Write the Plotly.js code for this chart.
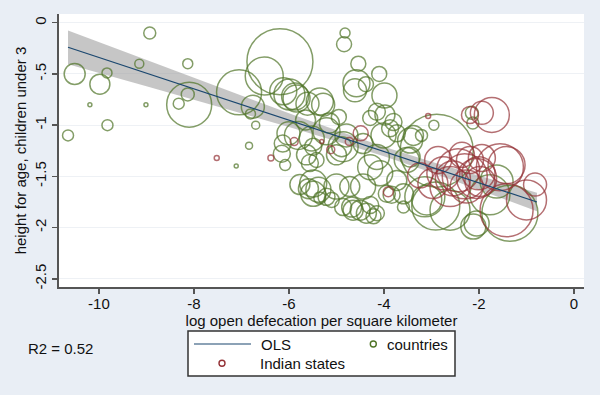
<!DOCTYPE html>
<html>
<head>
<meta charset="utf-8">
<script src="https://cdn.plot.ly/plotly-3.0.1.min.js"></script>
<style>html,body{margin:0;padding:0;background:#e9eef5;}#chart{width:600px;height:395px;}</style>
</head>
<body>
<div id="chart"></div>
<script>
// OLS fit and 95% CI band
var olsX = [-10.65, -0.78];
var olsY = [-0.240, -1.750];
var ciX = [-10.65, -9, -8, -7, -6, -5, -4, -3, -2, -0.78];
var ciUpper = [-0.075, -0.364, -0.539, -0.712, -0.884, -1.051, -1.210, -1.357, -1.496, -1.660];
var ciLower = [-0.405, -0.620, -0.751, -0.884, -1.018, -1.157, -1.304, -1.463, -1.630, -1.840];

// countries: log open defecation per km2, height-for-age, bubble size
var countriesX = [-10.65,-10.51,-10.19,-9.98,-9.83,-9.82,-9.15,-9.01,-8.93,-8.13,-8.10,-8.32,-8.13,-7.11,-6.84,-7.05,-6.19,-6.52,-5.99,-6.76,-6.70,-6.81,-6.13,-6.08,-6.15,-5.61,-5.28,-5.87,-4.82,-4.84,-4.54,-4.58,-4.38,-4.10,-3.99,-4.15,-3.98,-4.29,-3.80,-2.95,-2.89,-2.13,-2.15,-6.01,-5.80,-5.52,-5.21,-4.79,-4.89,-4.44,-4.01,-3.87,-3.38,-3.21,-3.45,-5.00,-5.63,-4.15,-3.45,-5.49,-5.56,-5.42,-5.49,-5.59,-5.38,-5.10,-5.35,-4.29,-4.08,-4.86,-5.00,-4.68,-4.29,-4.22,-4.50,-3.84,-3.59,-2.91,-3.14,-2.61,-1.63,-1.77,-2.05,-1.35,-3.73,-4.44,-4.72,-3.73,-3.52,-4.86,-4.65,-4.37,-4.15,-5.49,-5.21,-5.77,-3.94,-3.59,-3.10,-2.12,-5.84,-5.35,-6.12,-4.61,-5.15,-5.65,-4.95];
var countriesY = [-1.10,-0.50,-0.80,-0.60,-0.49,-1.00,-0.40,-0.80,-0.10,-0.40,-0.80,-0.79,-0.70,-1.40,-1.20,-0.68,-0.38,-0.52,-0.70,-0.82,-1.00,-0.89,-1.18,-1.39,-1.28,-0.79,-0.80,-0.72,-0.10,-0.21,-0.40,-0.59,-0.60,-0.50,-0.71,-0.87,-0.90,-0.93,-0.97,-1.00,-1.25,-0.98,-0.88,-1.08,-1.10,-1.13,-1.06,-1.10,-1.21,-1.18,-1.10,-1.03,-1.10,-1.10,-1.15,-1.29,-1.29,-1.31,-1.31,-1.21,-1.37,-1.34,-1.57,-1.62,-1.63,-1.73,-1.71,-1.41,-1.47,-1.21,-1.60,-1.80,-1.78,-1.89,-1.83,-1.68,-1.67,-1.79,-1.70,-1.83,-1.55,-1.68,-1.96,-1.86,-1.08,-1.60,-1.60,-1.54,-1.34,-1.80,-1.83,-1.86,-1.86,-1.67,-1.70,-1.58,-1.67,-1.80,-1.73,-1.99,-0.74,-0.77,-0.67,-0.66,-0.98,-0.95,-0.92];
var countriesSize = [11,21,4,20,10,11,9,4,12,10,45,11,13,4,7,45,66,38,31,23,8,10,17,11,17,23,23,27,10,15,15,27,15,15,25,17,20,15,17,10,73,12,13,23,28,25,27,23,20,20,25,17,20,12,25,20,20,25,20,17,17,15,27,20,25,15,12,25,25,30,25,20,17,15,20,17,20,48,40,40,33,40,25,56,17,25,20,20,25,17,20,20,15,25,17,20,17,12,30,25,27,27,27,23,20,20,15];

// Indian states
var statesX = [-7.52,-6.38,-5.89,-5.31,-5.12,-4.73,-4.49,-3.07,-3.91,-2.19,-1.94,-1.73,-2.75,-2.44,-2.01,-1.56,-2.86,-3.24,-2.26,-1.98,-2.61,-2.97,-1.94,-2.19,-2.36,-1.42,-1.00,-0.82,-1.42,-2.30,-2.05,-2.55];
var statesY = [-1.32,-1.32,-1.16,-1.16,-1.24,-1.16,-1.08,-0.91,-1.65,-0.90,-0.88,-0.90,-1.47,-1.44,-1.47,-1.41,-1.34,-1.49,-1.60,-1.55,-1.60,-1.57,-1.32,-1.34,-1.29,-1.39,-1.73,-1.58,-1.83,-1.50,-1.52,-1.52];
var statesSize = [5,6,8,4,8,8,15,5,10,17,23,35,33,43,33,47,27,25,33,30,40,30,27,27,25,37,40,23,53,45,40,35];

var tickVals = [0, -0.5, -1, -1.5, -2, -2.5];
var tickText = ["0", "-.5", "-1", "-1.5", "-2", "-2.5"];
var xTickVals = [-10, -8, -6, -4, -2, 0];
var xTickText = ["-10", "-8", "-6", "-4", "-2", "0"];

var green = '#4f7426', red = '#943236', navy = '#1a476f';
var font = {family: 'Liberation Sans, Arial, sans-serif', size: 15, color: '#111'};

var traces = [
  {x: ciX.concat(ciX.slice().reverse()), y: ciUpper.concat(ciLower.slice().reverse()),
   type: 'scatter', mode: 'lines', fill: 'toself', fillcolor: 'rgba(160,160,160,0.6)',
   line: {width: 0}, hoverinfo: 'skip'},
  {x: countriesX, y: countriesY, type: 'scatter', mode: 'markers', name: 'countries',
   marker: {symbol: 'circle-open', size: countriesSize, sizemode: 'diameter', sizeref: 1,
            color: green, line: {width: 1.5, color: green}}},
  {x: statesX, y: statesY, type: 'scatter', mode: 'markers', name: 'Indian states',
   marker: {symbol: 'circle-open', size: statesSize, sizemode: 'diameter', sizeref: 1,
            color: red, line: {width: 1.5, color: red}}},
  {x: olsX, y: olsY, type: 'scatter', mode: 'lines', name: 'OLS',
   line: {color: navy, width: 1.2}}
];

function px(p) { return (p - 59) / 525; }
function py(p) { return (287 - p) / 273; }

var layout = {
  width: 600, height: 395,
  margin: {l: 59, r: 16, t: 14, b: 108, pad: 0},
  paper_bgcolor: '#e9eef5', plot_bgcolor: '#ffffff',
  showlegend: false, font: font,
  xaxis: {range: [-10.84, 0.21], tickvals: xTickVals, ticktext: xTickText,
          showgrid: false, zeroline: false, showline: true, linecolor: '#555', linewidth: 2,
          ticks: 'outside', ticklen: 5, tickcolor: '#555', tickwidth: 1.5, tickfont: font,
          ticklabelstandoff: -3,
          title: {text: 'log open defecation per square kilometer', font: font, standoff: 0}},
  yaxis: {range: [-2.58, 0.085], tickvals: tickVals, ticktext: tickText, tickangle: -90,
          showgrid: true, gridcolor: '#eef1f5', gridwidth: 1, zeroline: false,
          showline: true, linecolor: '#555', linewidth: 2,
          ticks: 'outside', ticklen: 5, tickcolor: '#555', tickwidth: 1.5, tickfont: font,
          title: {text: 'height for age, children under 3', font: font, standoff: 2}},
  shapes: [
    {type: 'rect', xref: 'paper', yref: 'paper', x0: px(188), x1: px(455), y0: py(376), y1: py(331),
     line: {color: '#333', width: 1.5}, fillcolor: '#ffffff'},
    {type: 'line', xref: 'paper', yref: 'paper', x0: px(194), x1: px(251), y0: py(344), y1: py(344),
     line: {color: navy, width: 1.2}},
    {type: 'circle', xref: 'paper', yref: 'paper', x0: px(370.3), x1: px(376.3), y0: py(347), y1: py(341),
     line: {color: green, width: 1.4}},
    {type: 'circle', xref: 'paper', yref: 'paper', x0: px(219), x1: px(225), y0: py(366.3), y1: py(360.3),
     line: {color: red, width: 1.4}}
  ],
  annotations: [
    {xref: 'paper', yref: 'paper', x: px(259), y: py(344), xanchor: 'left', yanchor: 'middle',
     text: 'OLS', showarrow: false, font: font},
    {xref: 'paper', yref: 'paper', x: px(385), y: py(344), xanchor: 'left', yanchor: 'middle',
     text: 'countries', showarrow: false, font: font},
    {xref: 'paper', yref: 'paper', x: px(258), y: py(363), xanchor: 'left', yanchor: 'middle',
     text: 'Indian states', showarrow: false, font: font},
    {xref: 'paper', yref: 'paper', x: px(26), y: py(348), xanchor: 'left', yanchor: 'middle',
     text: 'R2 = 0.52', showarrow: false, font: font}
  ]
};

Plotly.newPlot('chart', traces, layout, {displayModeBar: false, staticPlot: true});
</script>
</body>
</html>
